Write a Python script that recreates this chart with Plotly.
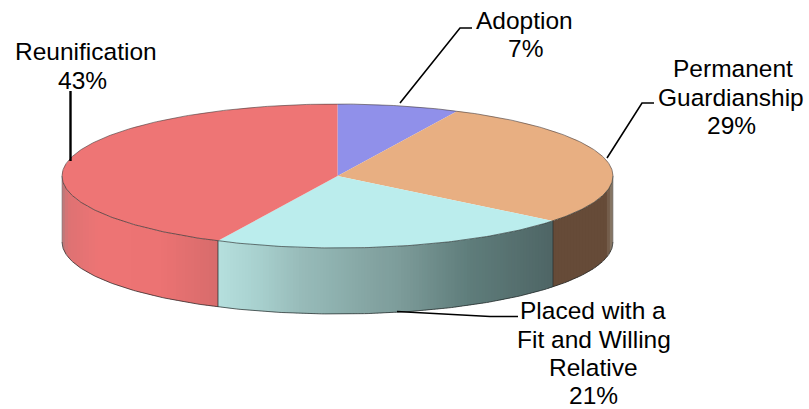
import math
import numpy as np
import plotly.graph_objects as go

# ---- data
labels = ["Adoption", "Permanent Guardianship", "Placed with a Fit and Willing Relative", "Reunification"]
values = [1, 4, 3, 6]  # read as counts: 7%, 29%, 21%, 43%
label_lines = [["Adoption", "7%"],
               ["Permanent", "Guardianship", "29%"],
               ["Placed with a", "Fit and Willing", "Relative", "21%"],
               ["Reunification", "43%"]]
top_colors = ["#9090EA", "#E8AF82", "#BBEDED", "#EE7575"]

# ---- layout of the pseudo 3-D pie, in page pixels
CX, CY, RX, RY, DEPTH = 337.5, 176.0, 275.5, 72.0, 66.0
W, H = 809, 409
# side shading stops (page x, colour), per slice
side_stops = {
    1: [(553, "#664B38"), (606, "#664B38"), (613, "#8F8272")],
    2: [(218, "#B6E0DE"), (260, "#A8D0CE"), (300, "#98BCBA"), (400, "#7D9C9A"), (470, "#5F7D7B"), (553, "#4F6666")],
    3: [(62, "#B87A7C"), (68, "#DE7273"), (100, "#EE7575"), (160, "#EC7373"), (218, "#D86C6C")],
}
label_pos = [[(524.5, 20), (525, 48)],
             [(733, 68), (731, 97), (731, 125)],
             [(593, 310), (594, 339), (593, 367), (593, 395)],
             [(85.5, 51), (82.5, 80)]]
leaders = [([400, 460, 472], [103, 28, 28], 1.6),
           ([607, 642, 654], [158, 103, 103], 1.6),
           ([397, 490, 518], [311.5, 316.5, 316.5], 1.6),
           ([70.5, 70.5], [91, 161], 2.4)]


def pt(angle, drop=0.0):
    """Angle in radians, clockwise from 12 o'clock."""
    return CX + RX * np.sin(angle), CY - RY * np.cos(angle) + drop


def hex2rgb(c):
    return [int(c[i:i + 2], 16) for i in (1, 3, 5)]


def shade(stops, x):
    xs = [s[0] for s in stops]
    rgb = np.array([hex2rgb(s[1]) for s in stops], dtype=float)
    return "rgb(%d,%d,%d)" % tuple(np.interp(x, xs, rgb[:, k]) for k in range(3))


fig = go.Figure()
fracs = np.array(values, dtype=float) / sum(values)
edges = np.concatenate([[0], np.cumsum(fracs)]) * 2 * math.pi


def poly(xs, ys, fill, line=None, width=0):
    fig.add_trace(go.Scatter(x=list(xs), y=list(ys), mode="lines", fill="toself", fillcolor=fill,
                             line=dict(color=line or fill, width=width), hoverinfo="skip", showlegend=False))


def stroke(xs, ys, color, width):
    fig.add_trace(go.Scatter(x=list(xs), y=list(ys), mode="lines", line=dict(color=color, width=width),
                             hoverinfo="skip", showlegend=False))


# side walls, drawn as narrow vertical shaded strips
STEP = 3.0
for i in side_stops:
    a0 = max(edges[i], math.pi / 2)
    a1 = min(edges[i + 1], 3 * math.pi / 2)
    x0, x1 = sorted([pt(a0)[0], pt(a1)[0]])
    x = x0
    while x < x1 - 1e-6:
        xe = min(x + STEP + 0.8, x1)
        sx = np.linspace(x, xe, 4)
        dy = RY * np.sqrt(np.clip(1 - ((sx - CX) / RX) ** 2, 0, 1))
        poly(np.concatenate([sx, sx[::-1]]),
             np.concatenate([CY + dy, (CY + dy + DEPTH)[::-1]]),
             shade(side_stops[i], x + STEP / 2))
        x += STEP

# top faces
for i in range(len(values)):
    t = np.linspace(edges[i], edges[i + 1], 120)
    px, py = pt(t)
    poly(np.concatenate([[CX], px, [CX]]), np.concatenate([[CY], py, [CY]]), top_colors[i])

# outlines
t = np.linspace(math.pi / 2, 3 * math.pi / 2, 240)
stroke(*pt(t), "rgba(35,45,45,0.65)", 1)
stroke(*pt(t, DEPTH), "rgba(30,35,35,0.7)", 1)
t = np.linspace(-math.pi / 2, math.pi / 2, 240)
stroke(*pt(t), "rgba(70,60,60,0.6)", 1)
for a in (edges[2], edges[3]):
    x, y = pt(a)
    stroke([x, x], [y, y + DEPTH], "rgba(30,40,40,0.75)", 1)
for s in (-1, 1):
    stroke([CX + s * RX] * 2, [CY, CY + DEPTH], "rgba(120,120,120,0.6)", 1)

# leader lines
for xs, ys, w in leaders:
    stroke(xs, ys, "#000000", w)

# labels
annotations = []
for lines, poss in zip(label_lines, label_pos):
    for text, (x, y) in zip(lines, poss):
        annotations.append(dict(x=x, y=y, xref="x", yref="y", text=text, showarrow=False,
                                xanchor="center", yanchor="middle",
                                font=dict(family="Liberation Sans, Arial, sans-serif", size=24.5, color="#000000")))

fig.update_layout(
    width=W, height=H, margin=dict(l=0, r=0, t=0, b=0),
    paper_bgcolor="#FFFFFF", plot_bgcolor="#FFFFFF", showlegend=False,
    xaxis=dict(range=[0, W], visible=False, fixedrange=True),
    yaxis=dict(range=[H, 0], visible=False, fixedrange=True),
    annotations=annotations,
)
fig.write_html("out.html", config={"displayModeBar": False},
               post_script="document.body.style.margin='0';document.documentElement.style.overflow='hidden';")
